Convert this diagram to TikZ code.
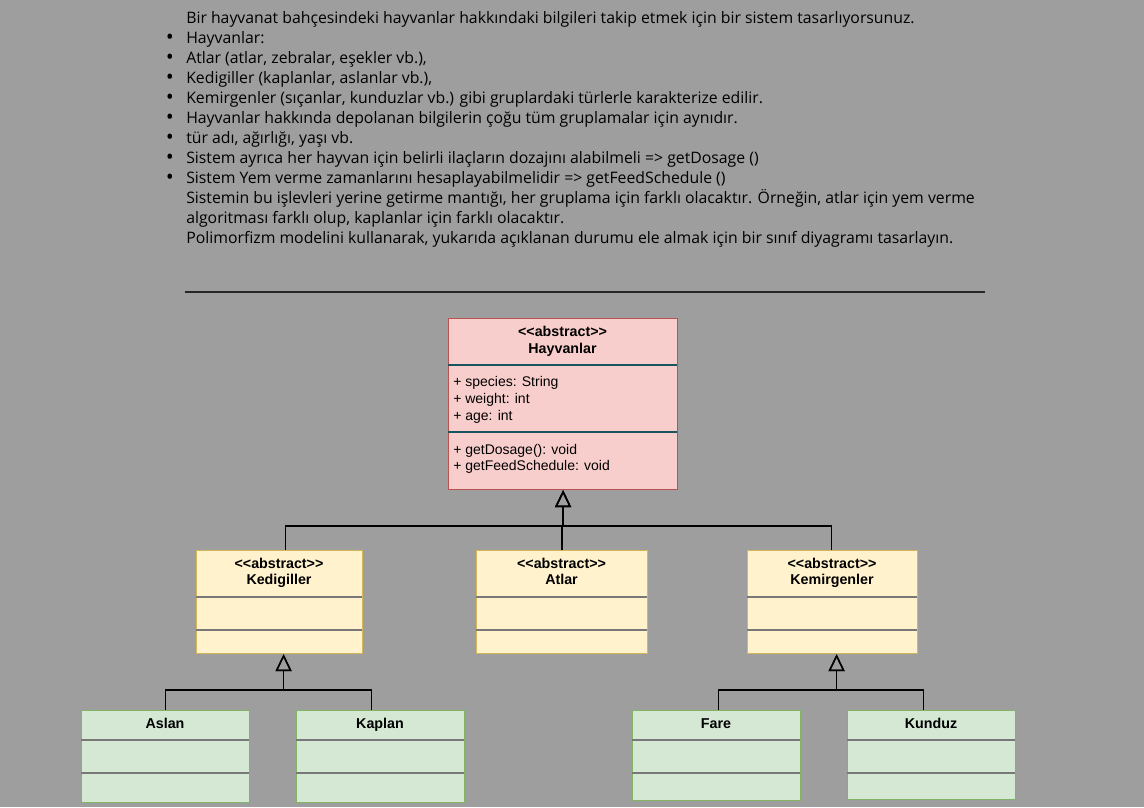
\documentclass[tikz,border=0pt]{standalone}
\usepackage{fontspec}
\setmainfont{Open Sans}
\newfontfamily\umlfont{Liberation Sans}
\usetikzlibrary{arrows.meta,calc}
\definecolor{bgc}{RGB}{158,158,158}
\definecolor{redfill}{HTML}{F8CECC}
\definecolor{redline}{HTML}{B85450}
\definecolor{yelfill}{HTML}{FFF2CC}
\definecolor{yelline}{HTML}{D6B656}
\definecolor{grnfill}{HTML}{D5E8D4}
\definecolor{grnline}{HTML}{82B366}
\definecolor{tealdiv}{RGB}{25,85,95}
\definecolor{graydiv}{RGB}{120,120,120}

\begin{document}
\begin{tikzpicture}[x=0.75pt,y=-0.75pt,
	txt/.style={anchor=base west,inner sep=0pt,font=\fontsize{11.85}{14}\selectfont},
	dot/.style={anchor=base,inner sep=0pt,font=\fontsize{16}{18}\selectfont},
	cls/.style={anchor=north west,draw,line width=0.9pt,inner sep=0pt},
	abs/.style={cls,fill=redfill,draw=redline},
	grp/.style={cls,fill=yelfill,draw=yelline},
	leaf/.style={cls,fill=grnfill,draw=grnline},
	ttl/.style={anchor=base,inner sep=0pt,font=\umlfont\bfseries\fontsize{10.7}{12}\selectfont},
	mem/.style={anchor=base west,inner sep=0pt,font=\umlfont\fontsize{10.5}{12}\selectfont},
	div/.style={line width=0.9pt},
	inh/.style={line width=1.1pt,-{Triangle[open,length=12.75pt,width=12pt]}}]
	\fill[bgc] (0,0) rectangle (1144,807);
	\useasboundingbox (0,0) rectangle (1144,807);
	% task text
	\node[txt] (l1) at (186,23) {Bir hayvanat bahçesindeki hayvanlar hakkındaki bilgileri takip etmek için bir sistem tasarlıyorsunuz.};
	\node[txt] (l2) at (186,43) {Hayvanlar:};
	\node[txt] (l3) at (186,63) {Atlar (atlar, zebralar, eşekler vb.),};
	\node[txt] (l4) at (186,83) {Kedigiller (kaplanlar, aslanlar vb.),};
	\node[txt] (l5) at (186,103) {Kemirgenler (sıçanlar, kunduzlar vb.) gibi gruplardaki türlerle karakterize edilir.};
	\node[txt] (l6) at (186,123) {Hayvanlar hakkında depolanan bilgilerin çoğu tüm gruplamalar için aynıdır.};
	\node[txt] (l7) at (186,143) {tür adı, ağırlığı, yaşı vb.};
	\node[txt] (l8) at (186,163) {Sistem ayrıca her hayvan için belirli ilaçların dozajını alabilmeli => getDosage ()};
	\node[txt] (l9) at (186,183) {Sistem Yem verme zamanlarını hesaplayabilmelidir => getFeedSchedule ()};
	\node[txt] (l10) at (186,203) {Sistemin bu işlevleri yerine getirme mantığı, her gruplama için farklı olacaktır. Örneğin, atlar için yem verme};
	\node[txt] (l11) at (186,223) {algoritması farklı olup, kaplanlar için farklı olacaktır.};
	\node[txt] (l12) at (186,243) {Polimorfizm modelini kullanarak, yukarıda açıklanan durumu ele almak için bir sınıf diyagramı tasarlayın.};
	\foreach \k in {2,...,9}
		\node[dot] (b\k) at (170,{4+20*\k}) {•};
	\draw[line width=1.4pt,black!85] (185,292) -- (985,292);

	% Hayvanlar
	\node[abs,minimum width=229*0.75pt,minimum height=171*0.75pt] (hay) at (448,318) {};
	\node[ttl] (hayS) at (562.5,336) {<<abstract>>};
	\node[ttl] (hayN) at (562.5,353) {Hayvanlar};
	\draw[div,tealdiv] (448,365) -- (677,365);
	\draw[div,tealdiv] (448,432) -- (677,432);
	\node[mem] (a1) at (453,386) {+ species: String};
	\node[mem] (a2) at (453,403) {+ weight: int};
	\node[mem] (a3) at (453,420.5) {+ age: int};
	\node[mem] (o1) at (453,454) {+ getDosage(): void};
	\node[mem] (o2) at (453,470) {+ getFeedSchedule: void};

	% groups
	\node[grp,minimum width=166*0.75pt,minimum height=103*0.75pt] (kedi) at (196,550) {};
	\node[ttl] (kediS) at (279,568) {<<abstract>>};
	\node[ttl] (kediN) at (279,584) {Kedigiller};
	\draw[div,graydiv] (196,597) -- (362,597);
	\draw[div,graydiv] (196,630) -- (362,630);
	\node[grp,minimum width=171*0.75pt,minimum height=103*0.75pt] (atl) at (476,550) {};
	\node[ttl] (atlS) at (561.5,568) {<<abstract>>};
	\node[ttl] (atlN) at (561.5,584) {Atlar};
	\draw[div,graydiv] (476,597) -- (647,597);
	\draw[div,graydiv] (476,630) -- (647,630);
	\node[grp,minimum width=170*0.75pt,minimum height=103*0.75pt] (kem) at (747,550) {};
	\node[ttl] (kemS) at (832,568) {<<abstract>>};
	\node[ttl] (kemN) at (832,584) {Kemirgenler};
	\draw[div,graydiv] (747,597) -- (917,597);
	\draw[div,graydiv] (747,630) -- (917,630);

	% leaves
	\node[leaf,minimum width=168*0.75pt,minimum height=92*0.75pt] (asl) at (81,710) {};
	\node[ttl] (aslN) at (165,728) {Aslan};
	\draw[div,graydiv] (81,740) -- (249,740);
	\draw[div,graydiv] (81,773) -- (249,773);
	\node[leaf,minimum width=168*0.75pt,minimum height=92*0.75pt] (kap) at (296,710) {};
	\node[ttl] (kapN) at (380,728) {Kaplan};
	\draw[div,graydiv] (296,740) -- (464,740);
	\draw[div,graydiv] (296,773) -- (464,773);
	\node[leaf,minimum width=168*0.75pt,minimum height=90*0.75pt] (far) at (632,710) {};
	\node[ttl] (farN) at (716,728) {Fare};
	\draw[div,graydiv] (632,740) -- (800,740);
	\draw[div,graydiv] (632,773) -- (800,773);
	\node[leaf,minimum width=168*0.75pt,minimum height=89*0.75pt] (kun) at (847,710) {};
	\node[ttl] (kunN) at (931,728) {Kunduz};
	\draw[div,graydiv] (847,740) -- (1015,740);
	\draw[div,graydiv] (847,773) -- (1015,773);

	% inheritance
	\coordinate (j1) at ($(hay.south)+(0,36)$);
	\draw[inh] ([xshift=4.5pt]kedi.north) |- (j1) -- (hay.south);
	\draw[inh] (atl.north) |- (j1) -- (hay.south);
	\draw[inh] ([xshift=-0.75pt]kem.north) |- (j1) -- (hay.south);
	\coordinate (j2) at ($([xshift=3pt]kedi.south)+(0,36)$);
	\draw[inh] (asl.north) |- (j2) -- ([xshift=3pt]kedi.south);
	\draw[inh] ([xshift=-6.75pt]kap.north) |- (j2) -- ([xshift=3pt]kedi.south);
	\coordinate (j3) at ($([xshift=3pt]kem.south)+(0,36)$);
	\draw[inh] ([xshift=1.5pt]far.north) |- (j3) -- ([xshift=3pt]kem.south);
	\draw[inh] ([xshift=-6pt]kun.north) |- (j3) -- ([xshift=3pt]kem.south);
\end{tikzpicture}
\end{document}
